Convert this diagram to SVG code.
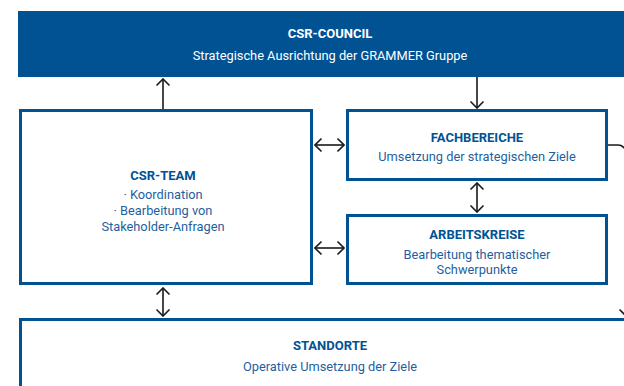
<svg xmlns="http://www.w3.org/2000/svg" width="624" height="386" viewBox="0 0 624 386">
<style>
.box{fill:#fff;stroke:#005293;stroke-width:3}
.t{font-family:Roboto,"Liberation Sans",sans-serif;font-size:13px;font-weight:bold;fill:#005293;text-anchor:middle}
.s{font-family:Roboto,"Liberation Sans",sans-serif;font-size:12.8px;fill:#1f5fa0;text-anchor:middle}
.w{fill:#fff}
.c{fill:none;stroke:#1a1a1a;stroke-width:1.6}
</style>
<defs>
<marker id="ah" viewBox="-8 -8 9 16" markerWidth="9" markerHeight="16" refX="0" refY="0" orient="auto-start-reverse" markerUnits="userSpaceOnUse">
<path d="M-6.5,-6.5 L0,0 L-6.5,6.5" fill="none" stroke="#1a1a1a" stroke-width="1.6"/>
</marker>
</defs>
<g id="council">
<rect x="18" y="11" width="630" height="66" fill="#005293"/>
<text class="t w" x="330" y="38">CSR-COUNCIL</text>
<text class="s w" x="330" y="60">Strategische Ausrichtung der GRAMMER Gruppe</text>
</g>
<g id="csr-team">
<rect class="box" x="20.5" y="110.5" width="291" height="173"/>
<text class="t" x="163" y="180">CSR-TEAM</text>
<text class="s" x="163" y="199">· Koordination</text>
<text class="s" x="163" y="215">· Bearbeitung von</text>
<text class="s" x="163" y="231">Stakeholder-Anfragen</text>
</g>
<g id="fachbereiche">
<rect class="box" x="347.5" y="110.5" width="259" height="69"/>
<text class="t" x="477" y="142">FACHBEREICHE</text>
<text class="s" x="477" y="161">Umsetzung der strategischen Ziele</text>
</g>
<g id="arbeitskreise">
<rect class="box" x="347.5" y="215.5" width="259" height="68"/>
<text class="t" x="477" y="239">ARBEITSKREISE</text>
<text class="s" x="477" y="259">Bearbeitung thematischer</text>
<text class="s" x="477" y="274">Schwerpunkte</text>
</g>
<g id="standorte">
<rect class="box" x="20.5" y="319.5" width="630" height="100"/>
<text class="t" x="330" y="350">STANDORTE</text>
<text class="s" x="330" y="371">Operative Umsetzung der Ziele</text>
</g>
<g id="connectors">
<path class="c" d="M163,109 V79" marker-end="url(#ah)"/>
<path class="c" d="M477,77 V108" marker-end="url(#ah)"/>
<path class="c" d="M315,145 H344" marker-start="url(#ah)" marker-end="url(#ah)"/>
<path class="c" d="M315,248 H344" marker-start="url(#ah)" marker-end="url(#ah)"/>
<path class="c" d="M477,183 V212" marker-start="url(#ah)" marker-end="url(#ah)"/>
<path class="c" d="M163,288 V316" marker-start="url(#ah)" marker-end="url(#ah)"/>
<path class="c" d="M608,145 H618 A8,8 0 0 1 626,153 V316" marker-end="url(#ah)"/>
</g>
</svg>
